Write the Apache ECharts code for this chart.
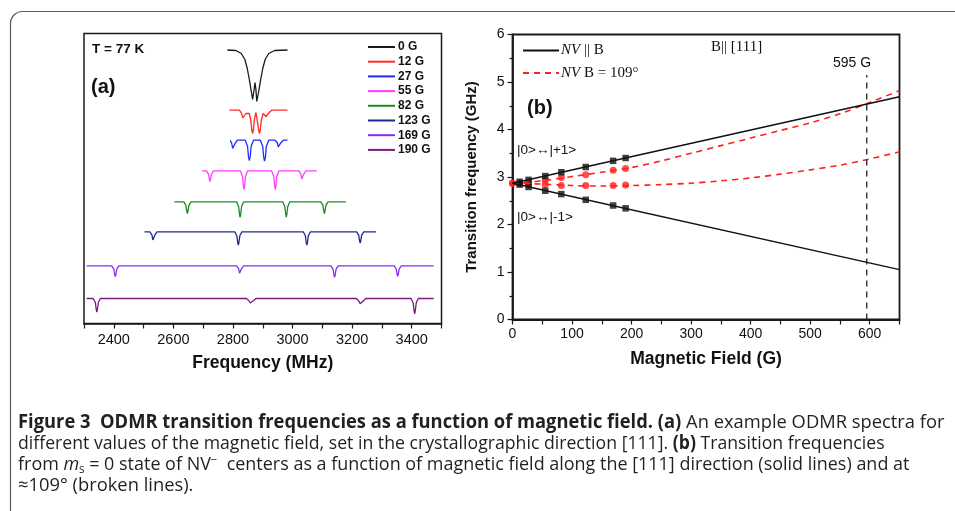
<!DOCTYPE html>
<html>
<head>
<meta charset="utf-8">
<script src="https://cdn.jsdelivr.net/npm/echarts@6/dist/echarts.min.js"></script>
<style>
  html, body { margin: 0; padding: 0; background: #fff; }
  #chart { width: 955px; height: 511px; }
</style>
</head>
<body>
<div id="chart"></div>
<script>
// ---- (a) ODMR spectra: [frequency (MHz), offset intensity (a.u.)] ----
const spec0G = [[2781,27.35],[2810,27.3],[2828,27.0],[2840,26.4],[2848,25.5],[2855,24.4],[2861,23.3],[2866,22.4],[2868,22.2],[2871,23.4],[2874,24.1],[2877,23.4],[2880,22.2],[2882,22.4],[2887,23.3],[2893,24.4],[2900,25.5],[2908,26.4],[2920,27.0],[2940,27.3],[2983,27.35]];
const spec12G = [[2788,21.33],[2822,21.33],[2829,21.0],[2833,20.55],[2836,20.35],[2839,20.55],[2843,21.0],[2849,21.2],[2855,21.0],[2860,20.3],[2863,19.4],[2866,19.0],[2869,19.4],[2872,20.4],[2877,21.1],[2881,20.4],[2886,19.4],[2889,19.0],[2892,19.4],[2895,20.3],[2901,21.0],[2906,21.05],[2911,20.7],[2914,20.5],[2917,20.7],[2922,21.1],[2930,21.33],[2983,21.33]];
const spec27G = [[2791,18.33],[2796,18.0],[2799,17.5],[2801,17.3],[2803,17.5],[2807,18.0],[2815,18.33],
  [2841,18.33],[2849,17.72],[2852,16.71],[2855,16.3],[2858,16.71],[2861,17.72],[2869,18.33],
  [2892,18.33],[2900,17.71],[2903,16.67],[2906,16.25],[2909,16.67],[2912,17.71],[2920,18.33],
  [2941,18.33],[2949,18.08],[2952,17.67],[2955,17.5],[2958,17.67],[2961,18.08],[2969,18.33],[2983,18.33]];
const spec55G = [[2697,15.26],[2711,15.26],[2718,14.94],[2721,14.41],[2723,14.2],[2725,14.41],[2728,14.94],[2735,15.26],
  [2825,15.26],[2832,14.7],[2835,13.77],[2837,13.4],[2839,13.77],[2842,14.7],[2849,15.26],
  [2930,15.26],[2937,14.7],[2940,13.77],[2942,13.4],[2944,13.77],[2947,14.7],[2954,15.26],
  [3021,15.26],[3028,14.96],[3031,14.45],[3033,14.25],[3035,14.45],[3038,14.96],[3045,15.26],[3081,15.26]];
const spec82G = [[2603,12.17],[2635,12.17],[2642,11.82],[2645,11.23],[2647,11.0],[2649,11.23],[2652,11.82],[2659,12.17],
  [2812,12.17],[2819,11.7],[2822,10.91],[2824,10.6],[2826,10.91],[2829,11.7],[2836,12.17],
  [2967,12.17],[2974,11.71],[2977,10.95],[2979,10.65],[2981,10.95],[2984,11.71],[2991,12.17],
  [3095,12.17],[3102,11.82],[3105,11.23],[3107,11.0],[3109,11.23],[3112,11.82],[3119,12.17],[3179,12.17]];
const spec123G = [[2503,9.17],[2521,9.17],[2528,8.86],[2531,8.35],[2533,8.15],[2535,8.35],[2538,8.86],[2545,9.17],
  [2806,9.17],[2813,8.77],[2816,8.1],[2818,7.83],[2820,8.1],[2823,8.77],[2830,9.17],
  [3036,9.17],[3043,8.77],[3046,8.1],[3048,7.83],[3050,8.1],[3053,8.77],[3060,9.17],
  [3215,9.17],[3222,8.83],[3225,8.27],[3227,8.05],[3229,8.27],[3232,8.83],[3239,9.17],[3280,9.17]];
const spec169G = [[2309,5.76],[2393,5.76],[2400,5.44],[2403,4.9],[2405,4.68],[2407,4.9],[2410,5.44],[2417,5.76],
  [2812,5.76],[2819,5.49],[2822,5.03],[2824,4.85],[2826,5.03],[2829,5.49],[2836,5.76],
  [3129,5.76],[3136,5.42],[3139,4.85],[3141,4.62],[3143,4.85],[3146,5.42],[3153,5.76],
  [3341,5.76],[3348,5.45],[3351,4.93],[3353,4.72],[3355,4.93],[3358,5.45],[3365,5.76],[3474,5.76]];
const spec190G = [[2309,2.5],[2331,2.5],[2338,2.1],[2341,1.42],[2343,1.15],[2345,1.42],[2348,2.1],[2355,2.5],
  [2845,2.5],[2853,2.3],[2858,2.05],[2861,1.95],[2864,2.05],[2869,2.3],[2877,2.5],
  [3214,2.5],[3222,2.28],[3227,1.98],[3230,1.85],[3233,1.98],[3238,2.28],[3246,2.5],
  [3398,2.5],[3405,2.04],[3408,1.26],[3410,0.95],[3412,1.26],[3415,2.04],[3422,2.5],[3474,2.5]];
const spectrumNames = ['0 G', '12 G', '27 G', '55 G', '82 G', '123 G', '169 G', '190 G'];
const spectra = [spec0G, spec12G, spec27G, spec55G, spec82G, spec123G, spec169G, spec190G];
const spectrumColors = ['#1a1a1a', '#ff2a2a', '#1f2bff', '#ff3cff', '#1e8a1e', '#1f2a8c', '#8a2bf0', '#7d1a80'];

// ---- (b) transition frequencies (GHz) vs magnetic field (G) ----
const fieldMeasured = [12, 27, 55, 82, 123, 169, 190];
const upperParallel = [2.90, 2.94, 3.02, 3.10, 3.21, 3.34, 3.40];
const lowerParallel = [2.84, 2.79, 2.71, 2.64, 2.52, 2.40, 2.34];
const fieldOblique = [0, 12, 27, 55, 82, 123, 169, 190];
const upperOblique = [2.87, 2.88, 2.89, 2.93, 2.99, 3.05, 3.14, 3.18];
const lowerOblique = [2.87, 2.86, 2.85, 2.84, 2.82, 2.82, 2.82, 2.83];
const fieldFit = [0, 650];
const upperFit = [2.87, 4.69];
const lowerFit = [2.87, 1.05];
const fieldCurve = [0, 50, 100, 150, 200, 250, 300, 350, 400, 450, 500, 550, 600, 650];
const upperCurve = [2.87, 2.92, 3.01, 3.10, 3.20, 3.34, 3.50, 3.66, 3.82, 3.98, 4.14, 4.33, 4.57, 4.82];
const lowerCurve = [2.87, 2.85, 2.82, 2.81, 2.82, 2.84, 2.87, 2.92, 2.98, 3.06, 3.15, 3.25, 3.38, 3.53];
const crossField = 595;
const crossLineTop = 5.15;

const zip = (xs, ys) => xs.map((x, i) => [x, ys[i]]);

const chart = echarts.init(document.getElementById('chart'));

const sans = 'Liberation Sans';
const serif = 'Liberation Serif';
const axisColor = '#1a1a1a';
const red = '#ff2020';
const capFont = 'Open Sans';
const capSize = 19;

const spectrumSeries = spectra.map((d, i) => ({
  name: spectrumNames[i],
  type: 'line',
  xAxisIndex: 0,
  yAxisIndex: 0,
  data: d,
  symbol: 'none',
  color: spectrumColors[i],
  lineStyle: { width: 1.3, color: spectrumColors[i] }
}));

// caption line helper (rich text, horizontally condensed)
function captionLine(y, text, scale, extraRich) {
  return {
    type: 'text', x: 18, y: y, scaleX: scale,
    style: {
      text: text,
      font: capSize + 'px "' + capFont + '"', fill: '#231f20', verticalAlign: 'middle', lineHeight: 21,
      rich: Object.assign({ b: { fontWeight: 'bold', fontFamily: capFont, fontSize: capSize, fill: '#231f20' } }, extraRich || {})
    }
  };
}

const option = {
  animation: false,
  backgroundColor: '#fff',
  grid: [
    { left: 84, top: 33.5, width: 357.5, height: 290, show: true, borderColor: axisColor, borderWidth: 1.5, backgroundColor: 'transparent' },
    { left: 512.5, top: 34.5, width: 387, height: 285, show: true, borderColor: axisColor, borderWidth: 1.8, backgroundColor: 'transparent' }
  ],
  xAxis: [
    {
      gridIndex: 0, type: 'value', min: 2300, max: 3500, interval: 100,
      name: 'Frequency (MHz)', nameLocation: 'middle', nameGap: 31,
      nameTextStyle: { fontFamily: sans, fontWeight: 'bold', fontSize: 17.5, color: '#111' },
      axisLine: { lineStyle: { color: axisColor, width: 1.5 } },
      axisTick: { length: 5, lineStyle: { color: axisColor, width: 1.2 } },
      axisLabel: { fontFamily: sans, fontSize: 14.5, color: '#111', margin: 9,
        formatter: v => (v % 200 === 0 ? String(v) : '') },
      splitLine: { show: false }
    },
    {
      gridIndex: 1, type: 'value', min: 0, max: 650, interval: 50,
      name: 'Magnetic Field (G)', nameLocation: 'middle', nameGap: 31,
      nameTextStyle: { fontFamily: sans, fontWeight: 'bold', fontSize: 17.5, color: '#111' },
      axisLine: { lineStyle: { color: axisColor, width: 1.8 } },
      axisTick: { length: 5, lineStyle: { color: axisColor, width: 1.2 } },
      axisLabel: { fontFamily: sans, fontSize: 14, color: '#111', margin: 8,
        formatter: v => (v % 100 === 0 ? String(v) : '') },
      splitLine: { show: false }
    }
  ],
  yAxis: [
    { gridIndex: 0, type: 'value', min: 0, max: 29, show: false },
    {
      gridIndex: 1, type: 'value', min: 0, max: 6, interval: 1,
      name: 'Transition frequency (GHz)', nameLocation: 'middle', nameGap: 33,
      nameTextStyle: { fontFamily: sans, fontWeight: 'bold', fontSize: 15, color: '#111' },
      axisLine: { lineStyle: { color: axisColor, width: 1.8 } },
      axisTick: { length: 5, lineStyle: { color: axisColor, width: 1.2 } },
      minorTick: { show: true, splitNumber: 2, length: 3, lineStyle: { color: axisColor, width: 1.2 } },
      axisLabel: { fontFamily: sans, fontSize: 14, color: '#111', margin: 8 },
      splitLine: { show: false }
    }
  ],
  legend: [
    {
      data: spectrumNames,
      orient: 'vertical', left: 362, top: 35,
      itemWidth: 27, itemHeight: 14, itemGap: 0.7,
      selectedMode: false,
      itemStyle: { opacity: 0 },
      textStyle: { fontFamily: sans, fontWeight: 'bold', fontSize: 12, color: '#111', lineHeight: 14, padding: [0, 0, 0, -2] }
    },
    {
      data: ['NV || B', 'NV B = 109°'],
      orient: 'vertical', left: 517, top: 38,
      itemWidth: 36, itemHeight: 14, itemGap: 7.4,
      selectedMode: false,
      itemStyle: { opacity: 0 },
      formatter: name => (name === 'NV || B' ? '{i|NV} || B' : '{i|NV} B = 109°'),
      textStyle: { fontFamily: serif, fontSize: 15, color: '#111', lineHeight: 14, padding: [0, 0, 0, -3],
        rich: { i: { fontFamily: serif, fontStyle: 'italic', fontSize: 15, color: '#111' } } }
    }
  ],
  series: spectrumSeries.concat([
    {
      name: 'NV B = 109°', type: 'line', xAxisIndex: 1, yAxisIndex: 1,
      data: zip(fieldCurve, upperCurve), symbol: 'none', smooth: 0.3, color: red,
      lineStyle: { color: red, width: 1.6, type: [6, 5] }
    },
    {
      name: 'NV B = 109°', type: 'line', xAxisIndex: 1, yAxisIndex: 1,
      data: zip(fieldCurve, lowerCurve), symbol: 'none', smooth: 0.3, color: red,
      lineStyle: { color: red, width: 1.6, type: [6, 5] }
    },
    {
      name: 'oblique points', type: 'scatter', xAxisIndex: 1, yAxisIndex: 1, clip: false,
      data: zip(fieldOblique, upperOblique).concat(zip(fieldOblique, lowerOblique)),
      symbol: 'circle', symbolSize: 7, itemStyle: { color: red }
    },
    {
      name: 'NV || B', type: 'line', xAxisIndex: 1, yAxisIndex: 1,
      data: zip(fieldFit, upperFit), symbol: 'none', color: '#111',
      lineStyle: { color: '#111', width: 1.5 }
    },
    {
      name: 'NV || B', type: 'line', xAxisIndex: 1, yAxisIndex: 1,
      data: zip(fieldFit, lowerFit), symbol: 'none', color: '#111',
      lineStyle: { color: '#111', width: 1.5 }
    },
    {
      name: 'parallel points', type: 'scatter', xAxisIndex: 1, yAxisIndex: 1,
      data: zip(fieldMeasured, upperParallel).concat(zip(fieldMeasured, lowerParallel)),
      symbol: 'rect', symbolSize: 6.5, itemStyle: { color: '#111' }
    },
    {
      name: '595 G', type: 'line', xAxisIndex: 1, yAxisIndex: 1,
      data: [[crossField, 0], [crossField, crossLineTop]], symbol: 'none',
      lineStyle: { color: '#222', width: 1.3, type: [6, 5] }
    }
  ]),
  graphic: [
    { type: 'rect', shape: { x: 10.5, y: 11.5, width: 980, height: 540, r: 12 },
      style: { fill: 'none', stroke: '#5a5a5a', lineWidth: 1.2 }, silent: true },
    { type: 'text', x: 92, y: 49, style: { text: 'T = 77 K', font: 'bold 13.5px "Liberation Sans"', fill: '#111', verticalAlign: 'middle' } },
    { type: 'text', x: 91, y: 87, style: { text: '(a)', font: 'bold 20px "Liberation Sans"', fill: '#111', verticalAlign: 'middle' } },
    { type: 'text', x: 527, y: 108, style: { text: '(b)', font: 'bold 20px "Liberation Sans"', fill: '#111', verticalAlign: 'middle' } },
    { type: 'text', x: 711, y: 47, style: { text: 'B|| [111]', font: '15px "Liberation Serif"', fill: '#111', verticalAlign: 'middle' } },
    { type: 'text', x: 833, y: 63.5, style: { text: '595 G', font: '14px "Liberation Sans"', fill: '#111', verticalAlign: 'middle' } },
    { type: 'text', x: 517, y: 150, style: { text: '|0>↔|+1>', font: '13.5px "Liberation Sans"', fill: '#111', verticalAlign: 'middle' } },
    { type: 'text', x: 517, y: 217.5, style: { text: '|0>↔|-1>', font: '13.5px "Liberation Sans"', fill: '#111', verticalAlign: 'middle' } },
    captionLine(423, '{b|Figure 3  ODMR transition frequencies as a function of magnetic field. (a)} An example ODMR spectra for', 0.965),
    captionLine(444, 'different values of the magnetic field, set in the crystallographic direction [111]. {b|(b)} Transition frequencies', 0.93),
    captionLine(465, 'from {i|m}{sub|s} = 0 state of NV{sup|−}  centers as a function of magnetic field along the [111] direction (solid lines) and at', 0.945, {
      i: { fontStyle: 'italic', fontFamily: capFont, fontSize: capSize, fill: '#231f20' },
      sub: { fontFamily: capFont, fontSize: 12, fill: '#231f20', verticalAlign: 'bottom', lineHeight: 21 },
      sup: { fontFamily: capFont, fontSize: 12, fill: '#231f20', verticalAlign: 'top', lineHeight: 21 }
    }),
    captionLine(486, '≈109° (broken lines).', 0.965)
  ]
};

chart.setOption(option);
</script>
</body>
</html>
